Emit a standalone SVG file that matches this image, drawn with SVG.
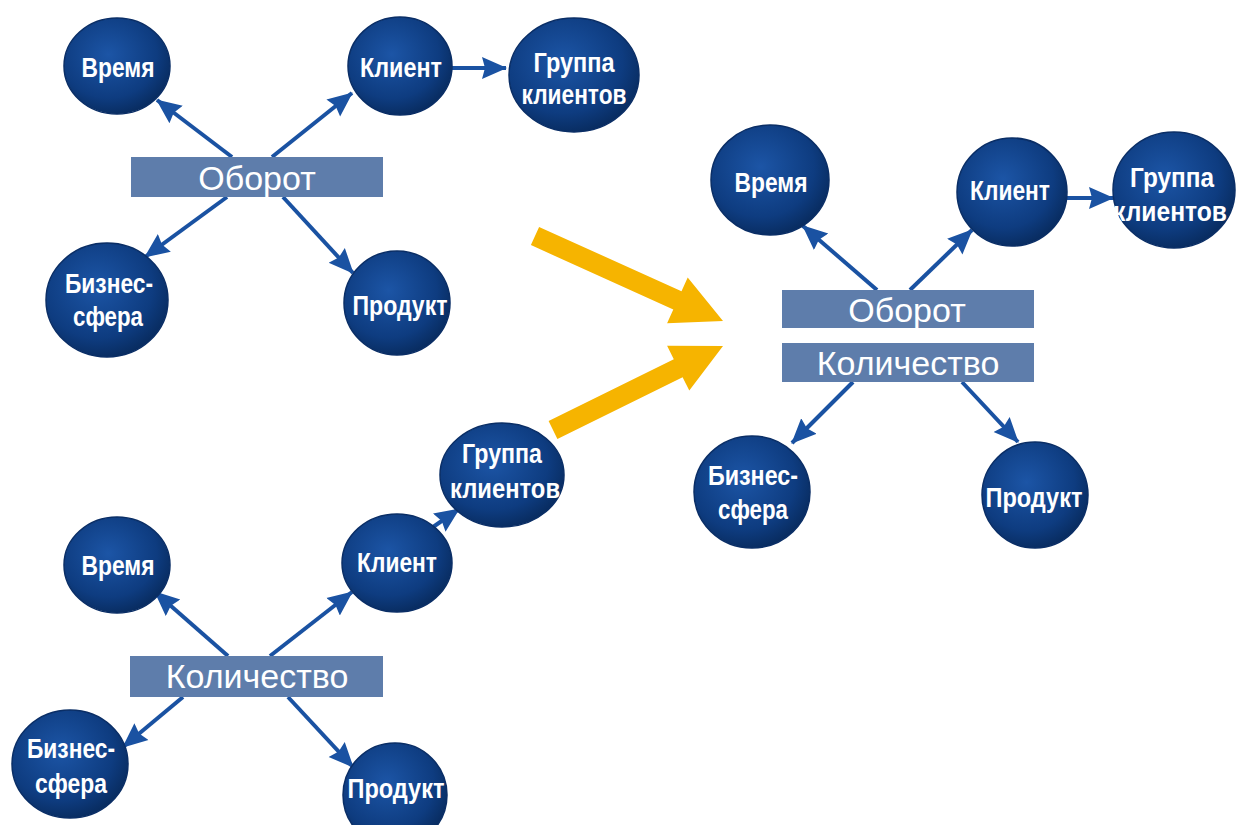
<svg xmlns="http://www.w3.org/2000/svg" width="1252" height="825" viewBox="0 0 1252 825">
<defs>
<radialGradient id="ball" cx="42%" cy="38%" r="65%">
<stop offset="0" stop-color="#1C55A6"/>
<stop offset="0.7" stop-color="#0E3C80"/>
<stop offset="1" stop-color="#082B5E"/>
</radialGradient>
<marker id="ah" markerUnits="userSpaceOnUse" markerWidth="26" markerHeight="24" refX="24" refY="12" orient="auto" viewBox="0 0 26 24">
<path d="M0,1 L25,12 L0,23 L3,12 z" fill="#1A52A2"/>
</marker>
</defs>
<style>
.n{fill:url(#ball);stroke:#0A2E66;stroke-width:1.5}
.t{font-family:"Liberation Sans",Arial,sans-serif;font-weight:bold;font-size:27px;fill:#FFFFFF;text-anchor:middle}
.box{fill:#5E7DAB}
.bt{font-family:"Liberation Sans",Arial,sans-serif;font-weight:normal;font-size:34px;fill:#FFFFFF;text-anchor:middle}
.c{stroke:#1A52A2;stroke-width:4;fill:none;marker-end:url(#ah)}
.y{fill:#F6B400}
</style>
<rect width="1252" height="825" fill="#FFFFFF"/>

<g id="connectors">
<line class="c" x1="232" y1="157" x2="157" y2="100"/>
<line class="c" x1="272" y1="157" x2="352" y2="93"/>
<line class="c" x1="227" y1="197" x2="145" y2="257"/>
<line class="c" x1="283" y1="197" x2="353" y2="273"/>
<line class="c" x1="452" y1="68" x2="506" y2="68"/>
<line class="c" x1="877" y1="290" x2="803" y2="226"/>
<line class="c" x1="910" y1="290" x2="972" y2="230"/>
<line class="c" x1="853" y1="382" x2="792" y2="443"/>
<line class="c" x1="962" y1="382" x2="1018" y2="442"/>
<line class="c" x1="1062" y1="198" x2="1113" y2="198"/>
<line class="c" x1="228" y1="656" x2="155" y2="592"/>
<line class="c" x1="270" y1="656" x2="352" y2="592"/>
<line class="c" x1="183" y1="697" x2="123" y2="747"/>
<line class="c" x1="288" y1="697" x2="353" y2="767"/>
<line class="c" x1="433" y1="527" x2="459" y2="509"/>
<polygon class="y" points="539.1,226.9 681.5,291.3 687.7,277.6 723,321 667.1,323.2 673.3,309.5 530.9,245.1"/>
<polygon class="y" points="548.6,421 673.8,359.2 667.1,345.8 723,346 689.3,390.6 682.6,377.2 557.4,439"/>
</g>

<g id="tl-oborot"><rect class="box" x="131" y="157" width="252" height="40"/><text class="bt" x="257" y="190">Оборот</text></g>
<g id="tl-vremya"><ellipse class="n" cx="117" cy="66" rx="53" ry="48"/><text class="t" x="118" y="77" textLength="73" lengthAdjust="spacingAndGlyphs">Время</text></g>
<g id="tl-klient"><ellipse class="n" cx="400" cy="66" rx="52" ry="49"/><text class="t" x="401" y="77" textLength="82" lengthAdjust="spacingAndGlyphs">Клиент</text></g>
<g id="tl-gruppa"><ellipse class="n" cx="574" cy="75" rx="65" ry="57"/><text class="t" x="574" y="72" textLength="81" lengthAdjust="spacingAndGlyphs">Группа</text><text class="t" x="574" y="104" textLength="105" lengthAdjust="spacingAndGlyphs">клиентов</text></g>
<g id="tl-biznes"><ellipse class="n" cx="107" cy="300" rx="61" ry="57"/><text class="t" x="109" y="293" textLength="88" lengthAdjust="spacingAndGlyphs">Бизнес-</text><text class="t" x="108" y="326" textLength="70" lengthAdjust="spacingAndGlyphs">сфера</text></g>
<g id="tl-produkt"><ellipse class="n" cx="397" cy="303" rx="53" ry="52"/><text class="t" x="400" y="315" textLength="95" lengthAdjust="spacingAndGlyphs">Продукт</text></g>

<g id="r-oborot"><rect class="box" x="782" y="290" width="252" height="38"/><text class="bt" x="907" y="322">Оборот</text></g>
<g id="r-kolichestvo"><rect class="box" x="782" y="343" width="252" height="39"/><text class="bt" x="908" y="375">Количество</text></g>
<g id="r-vremya"><ellipse class="n" cx="770" cy="180" rx="59" ry="55"/><text class="t" x="771" y="192" textLength="73" lengthAdjust="spacingAndGlyphs">Время</text></g>
<g id="r-klient"><ellipse class="n" cx="1012" cy="192" rx="55" ry="54"/><text class="t" x="1010" y="200" textLength="80" lengthAdjust="spacingAndGlyphs">Клиент</text></g>
<g id="r-gruppa"><ellipse class="n" cx="1174" cy="190" rx="61" ry="58"/><text class="t" x="1172" y="187" textLength="84" lengthAdjust="spacingAndGlyphs">Группа</text><text class="t" x="1170" y="221" textLength="114" lengthAdjust="spacingAndGlyphs">клиентов</text></g>
<g id="r-biznes"><ellipse class="n" cx="752" cy="492" rx="58" ry="56"/><text class="t" x="753" y="485" textLength="90" lengthAdjust="spacingAndGlyphs">Бизнес-</text><text class="t" x="753" y="519" textLength="70" lengthAdjust="spacingAndGlyphs">сфера</text></g>
<g id="r-produkt"><ellipse class="n" cx="1035" cy="495" rx="53" ry="53"/><text class="t" x="1034" y="507" textLength="97" lengthAdjust="spacingAndGlyphs">Продукт</text></g>

<g id="b-kolichestvo"><rect class="box" x="130" y="656" width="253" height="41"/><text class="bt" x="257" y="688">Количество</text></g>
<g id="b-vremya"><ellipse class="n" cx="117" cy="565" rx="53" ry="48"/><text class="t" x="118" y="575" textLength="73" lengthAdjust="spacingAndGlyphs">Время</text></g>
<g id="b-klient"><ellipse class="n" cx="397" cy="563" rx="55" ry="49"/><text class="t" x="397" y="572" textLength="80" lengthAdjust="spacingAndGlyphs">Клиент</text></g>
<g id="b-gruppa"><ellipse class="n" cx="502" cy="475" rx="62" ry="52"/><text class="t" x="502" y="463" textLength="80" lengthAdjust="spacingAndGlyphs">Группа</text><text class="t" x="505" y="498" textLength="110" lengthAdjust="spacingAndGlyphs">клиентов</text></g>
<g id="b-biznes"><ellipse class="n" cx="70" cy="764" rx="58" ry="54"/><text class="t" x="71" y="758" textLength="88" lengthAdjust="spacingAndGlyphs">Бизнес-</text><text class="t" x="71" y="793" textLength="72" lengthAdjust="spacingAndGlyphs">сфера</text></g>
<g id="b-produkt"><ellipse class="n" cx="395" cy="795" rx="52" ry="52"/><text class="t" x="396" y="798" textLength="97" lengthAdjust="spacingAndGlyphs">Продукт</text></g>
</svg>
